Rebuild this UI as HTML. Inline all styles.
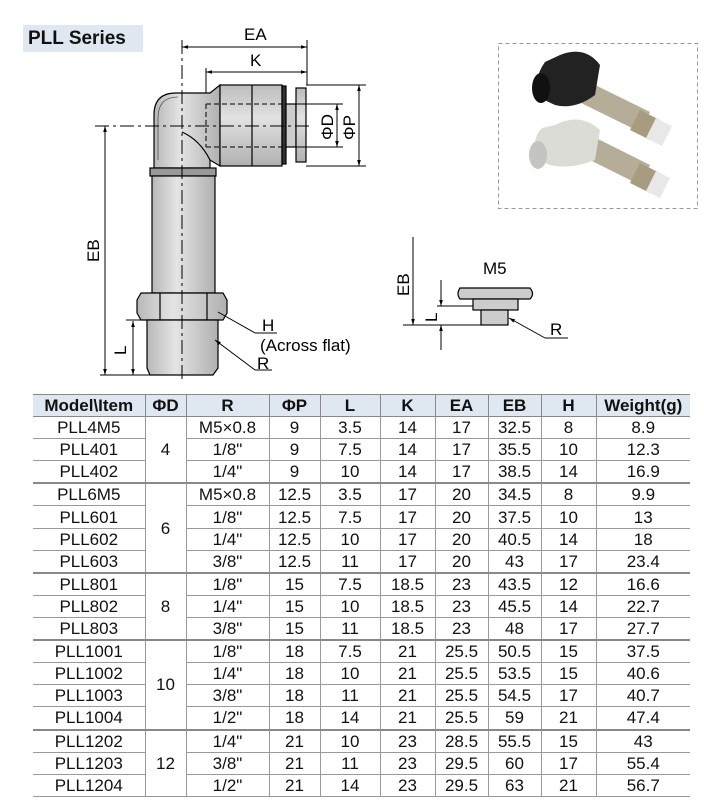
<!DOCTYPE html>
<html><head><meta charset="utf-8"><style>
body{margin:0;width:704px;height:808px;background:#fff;position:relative;overflow:hidden;font-family:"Liberation Sans",Arial,sans-serif;}
.title{position:absolute;left:23px;top:25px;width:120px;height:27px;background:#dfe7f1;font-weight:bold;font-size:19px;line-height:27px;padding-left:5px;box-sizing:border-box;color:#111}
table{position:absolute;left:33px;top:394px;height:403px;border-collapse:collapse;font-size:17px;color:#111}
td{border:1px solid #999;text-align:center;padding:0;line-height:19px}
tr.h td{font-weight:bold;background:#dfe7f1;border-color:#888}
tr.g td{border-top:2px solid #888}
table td:first-child{border-left:none}
table td:last-child{border-right:none}
</style></head><body>
<div class="title">PLL Series</div>
<svg width="704" height="390" style="position:absolute;left:0;top:0" font-family="Liberation Sans, Arial, sans-serif">
<defs>
<linearGradient id="gv" x1="0" x2="1"><stop offset="0" stop-color="#b8b8b8"/><stop offset=".4" stop-color="#e4e4e4"/><stop offset="1" stop-color="#b0b0b0"/></linearGradient>
<linearGradient id="gh" x1="0" x2="0" y1="0" y2="1"><stop offset="0" stop-color="#bcbcbc"/><stop offset=".4" stop-color="#e2e2e2"/><stop offset="1" stop-color="#b0b0b0"/></linearGradient>
<marker id="a" viewBox="0 0 10 10" refX="10" refY="5" markerWidth="9" markerHeight="6" orient="auto-start-reverse"><path d="M0,2 L10,5 L0,8z" fill="#000"/></marker>
</defs>
<g stroke="#000" stroke-width="1.2">
<path d="M154,168 L154,115 Q154,93 176,93 L210,93 L220,85 L220,166 L210,160 L210,168 Z" fill="url(#gv)"/>
<path d="M182,132 Q200,140 210,160" fill="none"/>
<path d="M158,160 L158,118 Q158,97 178,97" fill="none" stroke="#555" stroke-width="0.8"/>
<rect x="220" y="85" width="62" height="81" fill="url(#gh)"/>
<line x1="252" y1="85" x2="252" y2="166"/>
<rect x="282" y="86" width="4" height="78" fill="#333"/>
<rect x="286" y="104" width="10" height="43" fill="#ccc"/>
<rect x="296" y="88" width="10" height="74" fill="url(#gh)"/>
<rect x="150" y="168" width="66" height="8" fill="#999"/>
<rect x="152" y="176" width="63" height="117" fill="url(#gv)"/>
<path d="M137,300 L141,293 L223,293 L227,300 L227,313 L223,320 L141,320 L137,313Z" fill="url(#gv)"/>
<line x1="160" y1="293" x2="160" y2="320"/><line x1="207" y1="293" x2="207" y2="320"/>
<path d="M147,320 L218,320 L218,368 L213,375 L150,375 L147,368Z" fill="url(#gv)"/>
</g>
<g stroke="#000" stroke-width="1" fill="none">
<line x1="182" y1="40" x2="182" y2="380" stroke-dasharray="14,4,3,4"/>
<line x1="95" y1="126" x2="310" y2="126" stroke-dasharray="14,4,3,4"/>
<line x1="206" y1="104" x2="282" y2="104" stroke-dasharray="5,3"/>
<line x1="206" y1="147" x2="282" y2="147" stroke-dasharray="5,3"/>
<line x1="206" y1="104" x2="206" y2="147" stroke-dasharray="5,3"/>
<line x1="307" y1="40" x2="307" y2="85"/>
<line x1="206" y1="68" x2="206" y2="93"/>
<line x1="182" y1="47" x2="307" y2="47" marker-start="url(#a)" marker-end="url(#a)"/>
<line x1="206" y1="72" x2="307" y2="72" marker-start="url(#a)" marker-end="url(#a)"/>
<line x1="306" y1="85" x2="366" y2="85"/><line x1="306" y1="166" x2="366" y2="166"/>
<line x1="296" y1="104" x2="343" y2="104"/><line x1="296" y1="147" x2="343" y2="147"/>
<line x1="337" y1="104" x2="337" y2="147" marker-start="url(#a)" marker-end="url(#a)"/>
<line x1="359" y1="85" x2="359" y2="166" marker-start="url(#a)" marker-end="url(#a)"/>
<line x1="105" y1="126" x2="105" y2="375" marker-start="url(#a)" marker-end="url(#a)"/>
<line x1="100" y1="375" x2="150" y2="375"/>
<line x1="126" y1="320" x2="147" y2="320"/>
<line x1="133" y1="321" x2="133" y2="375" marker-start="url(#a)" marker-end="url(#a)"/>
<line x1="218" y1="312" x2="255" y2="333"/><line x1="255" y1="333" x2="277" y2="333"/>
<line x1="255" y1="370" x2="215" y2="340" marker-end="url(#a)"/><line x1="255" y1="370" x2="272" y2="370"/>
</g>
<g font-size="17" fill="#000">
<text x="244" y="40">EA</text>
<text x="250" y="66">K</text>
<text x="0" y="0" transform="translate(333,140) rotate(-90)">ΦD</text>
<text x="0" y="0" transform="translate(355,140) rotate(-90)">ΦP</text>
<text x="0" y="0" transform="translate(99,262) rotate(-90)">EB</text>
<text x="0" y="0" transform="translate(126,355) rotate(-90)">L</text>
<text x="262" y="331">H</text>
<text x="260" y="351">(Across flat)</text>
<text x="257" y="369">R</text>
</g>
<rect x="498.5" y="43.5" width="199" height="165" fill="#fff" stroke="#999" stroke-dasharray="4,3"/>
<g>
<path d="M585,80 L650,112 L640,132 L575,100 Z" fill="#b5ad98"/>
<path d="M640,110 L660,120 L650,140 L630,130 Z" fill="#a89c80"/>
<path d="M656,118 L672,126 L662,146 L646,138 Z" fill="#e8e8e8"/>
<path d="M560,55 Q585,45 600,65 L595,95 Q575,110 555,105 L540,98 Q532,80 545,62 Z" fill="#222"/>
<ellipse cx="541" cy="88" rx="9" ry="15" fill="#111"/>
<path d="M590,135 L650,165 L640,185 L580,155 Z" fill="#b5ad98"/>
<path d="M640,163 L660,173 L650,193 L630,183 Z" fill="#a89c80"/>
<path d="M656,171 L670,178 L660,198 L646,191 Z" fill="#e8e8e8"/>
<path d="M555,125 Q580,112 600,130 L595,160 Q570,170 550,165 L538,160 Q530,140 542,128 Z" fill="#dcdcd6"/>
<ellipse cx="538" cy="155" rx="9" ry="14" fill="#c4c4c0"/>
</g>
<g stroke="#000" stroke-width="1" fill="none">
<line x1="413" y1="237" x2="413" y2="325" marker-end="url(#a)"/>
<line x1="441" y1="280" x2="441" y2="306" marker-end="url(#a)"/>
<line x1="441" y1="350" x2="441" y2="325" marker-end="url(#a)"/>
<line x1="437" y1="306" x2="475" y2="306"/>
<line x1="403" y1="325" x2="482" y2="325"/>
<path d="M460,288 Q456,294 460,299 L530,299 Q535,294 530,288 Z" fill="#ccc" stroke-width="1.2"/>
<rect x="473" y="299" width="45" height="11" fill="#ccc" stroke-width="1.2"/>
<rect x="481" y="310" width="27" height="15" fill="#ccc" stroke-width="1.2"/>
<line x1="545" y1="338" x2="509" y2="318" marker-end="url(#a)"/>
<line x1="545" y1="338" x2="568" y2="338"/>
</g>
<g font-size="17" fill="#000">
<text x="483" y="274">M5</text>
<text x="0" y="0" transform="translate(409,296) rotate(-90)">EB</text>
<text x="0" y="0" transform="translate(437,322) rotate(-90)">L</text>
<text x="550" y="335">R</text>
</g>
</svg>
<table>
<colgroup><col style="width:112px"><col style="width:41px"><col style="width:83px"><col style="width:51px"><col style="width:60px"><col style="width:55px"><col style="width:53px"><col style="width:53px"><col style="width:55px"><col style="width:94px"></colgroup>
<tr class="h"><td>Model\Item</td><td>ΦD</td><td>R</td><td>ΦP</td><td>L</td><td>K</td><td>EA</td><td>EB</td><td>H</td><td>Weight(g)</td></tr>
<tr><td>PLL4M5</td><td rowspan="3">4</td><td>M5×0.8</td><td>9</td><td>3.5</td><td>14</td><td>17</td><td>32.5</td><td>8</td><td>8.9</td></tr>
<tr><td>PLL401</td><td>1/8"</td><td>9</td><td>7.5</td><td>14</td><td>17</td><td>35.5</td><td>10</td><td>12.3</td></tr>
<tr><td>PLL402</td><td>1/4"</td><td>9</td><td>10</td><td>14</td><td>17</td><td>38.5</td><td>14</td><td>16.9</td></tr>
<tr class="g"><td>PLL6M5</td><td rowspan="4">6</td><td>M5×0.8</td><td>12.5</td><td>3.5</td><td>17</td><td>20</td><td>34.5</td><td>8</td><td>9.9</td></tr>
<tr><td>PLL601</td><td>1/8"</td><td>12.5</td><td>7.5</td><td>17</td><td>20</td><td>37.5</td><td>10</td><td>13</td></tr>
<tr><td>PLL602</td><td>1/4"</td><td>12.5</td><td>10</td><td>17</td><td>20</td><td>40.5</td><td>14</td><td>18</td></tr>
<tr><td>PLL603</td><td>3/8"</td><td>12.5</td><td>11</td><td>17</td><td>20</td><td>43</td><td>17</td><td>23.4</td></tr>
<tr class="g"><td>PLL801</td><td rowspan="3">8</td><td>1/8"</td><td>15</td><td>7.5</td><td>18.5</td><td>23</td><td>43.5</td><td>12</td><td>16.6</td></tr>
<tr><td>PLL802</td><td>1/4"</td><td>15</td><td>10</td><td>18.5</td><td>23</td><td>45.5</td><td>14</td><td>22.7</td></tr>
<tr><td>PLL803</td><td>3/8"</td><td>15</td><td>11</td><td>18.5</td><td>23</td><td>48</td><td>17</td><td>27.7</td></tr>
<tr class="g"><td>PLL1001</td><td rowspan="4">10</td><td>1/8"</td><td>18</td><td>7.5</td><td>21</td><td>25.5</td><td>50.5</td><td>15</td><td>37.5</td></tr>
<tr><td>PLL1002</td><td>1/4"</td><td>18</td><td>10</td><td>21</td><td>25.5</td><td>53.5</td><td>15</td><td>40.6</td></tr>
<tr><td>PLL1003</td><td>3/8"</td><td>18</td><td>11</td><td>21</td><td>25.5</td><td>54.5</td><td>17</td><td>40.7</td></tr>
<tr><td>PLL1004</td><td>1/2"</td><td>18</td><td>14</td><td>21</td><td>25.5</td><td>59</td><td>21</td><td>47.4</td></tr>
<tr class="g"><td>PLL1202</td><td rowspan="3">12</td><td>1/4"</td><td>21</td><td>10</td><td>23</td><td>28.5</td><td>55.5</td><td>15</td><td>43</td></tr>
<tr><td>PLL1203</td><td>3/8"</td><td>21</td><td>11</td><td>23</td><td>29.5</td><td>60</td><td>17</td><td>55.4</td></tr>
<tr><td>PLL1204</td><td>1/2"</td><td>21</td><td>14</td><td>23</td><td>29.5</td><td>63</td><td>21</td><td>56.7</td></tr>
</table>
</body></html>
